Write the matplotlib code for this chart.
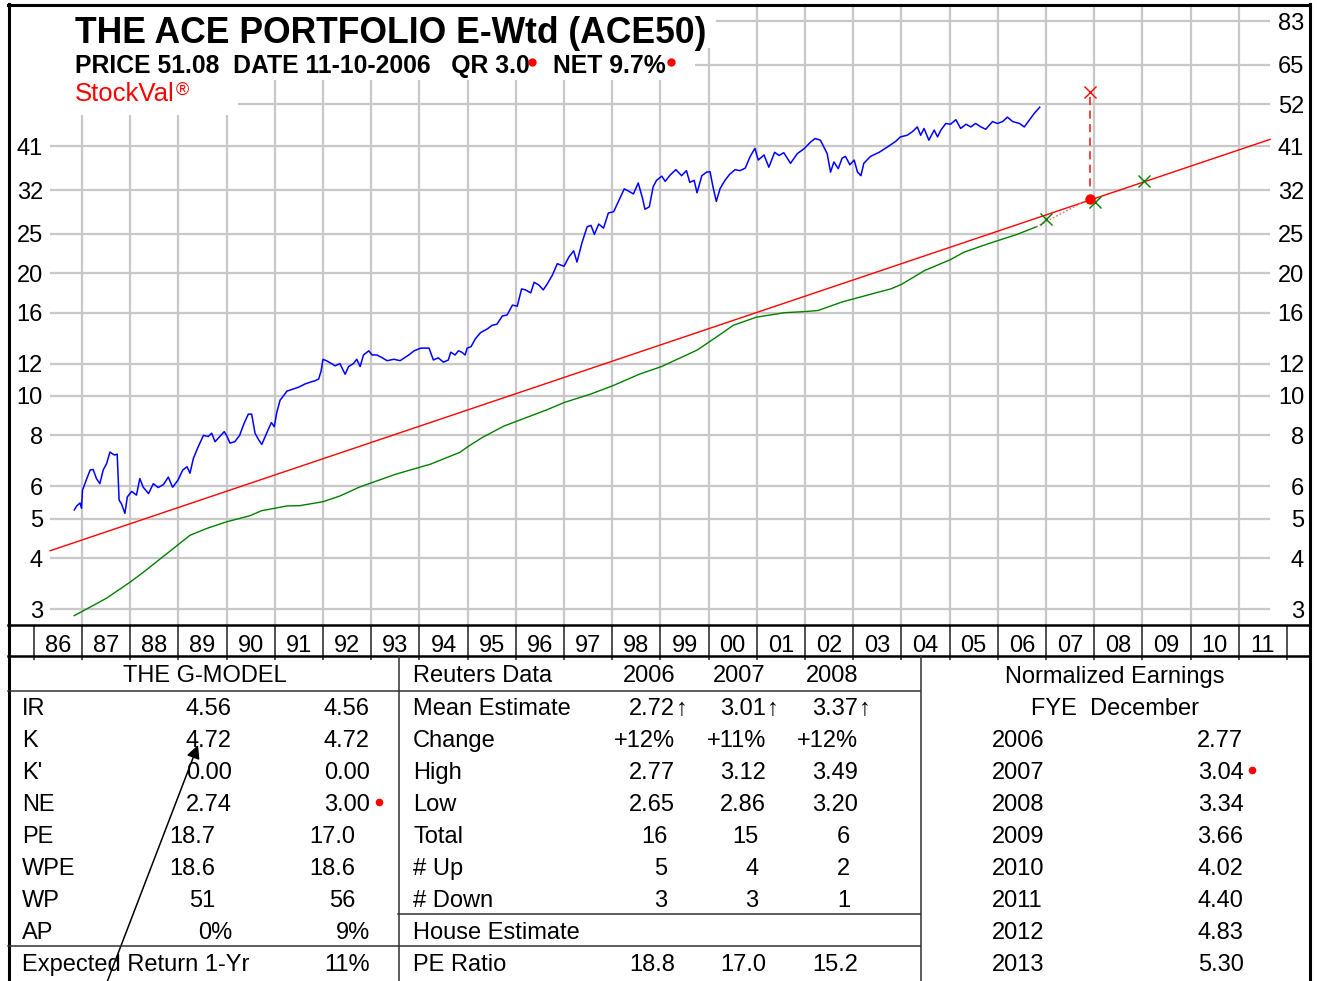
import matplotlib
matplotlib.use('Agg')
import matplotlib.pyplot as plt
from matplotlib.patches import Rectangle
from matplotlib.lines import Line2D

plt.rcParams['font.family'] = ['Liberation Sans', 'DejaVu Sans']

W, H, DPI = 1317, 981, 100

# ---------------- data ----------------
price_years = [1986.84, 1986.89, 1986.96, 1986.99, 1987.01, 1987.10, 1987.17, 1987.23, 1987.30, 1987.37,
               1987.44, 1987.51, 1987.58, 1987.64, 1987.68, 1987.73, 1987.77, 1987.82, 1987.89, 1987.94,
               1988.03, 1988.13, 1988.20, 1988.27, 1988.38, 1988.48, 1988.58, 1988.69, 1988.79, 1988.88,
               1988.99, 1989.09, 1989.18, 1989.24, 1989.31, 1989.41, 1989.52, 1989.62, 1989.69, 1989.76,
               1989.86, 1989.95, 1990.00, 1990.07, 1990.17, 1990.27, 1990.36, 1990.45, 1990.52, 1990.59,
               1990.66, 1990.73, 1990.80, 1990.86, 1990.93, 1990.99, 1991.04, 1991.11, 1991.18, 1991.25,
               1991.39, 1991.49, 1991.63, 1991.73, 1991.84, 1991.91, 1991.96, 1992.00, 1992.07, 1992.18,
               1992.25, 1992.35, 1992.46, 1992.53, 1992.63, 1992.70, 1992.77, 1992.84, 1992.95, 1993.02,
               1993.12, 1993.23, 1993.33, 1993.47, 1993.60, 1993.78, 1993.89, 1994.03, 1994.20, 1994.29,
               1994.39, 1994.50, 1994.60, 1994.65, 1994.74, 1994.81, 1994.88, 1994.95, 1994.99, 1995.07,
               1995.16, 1995.27, 1995.41, 1995.51, 1995.61, 1995.72, 1995.82, 1995.93, 1996.03, 1996.12,
               1996.20, 1996.31, 1996.38, 1996.48, 1996.57, 1996.65, 1996.76, 1996.86, 1997.00, 1997.10,
               1997.20, 1997.27, 1997.37, 1997.48, 1997.56, 1997.63, 1997.72, 1997.82, 1997.92, 1998.03,
               1998.13, 1998.25, 1998.34, 1998.44, 1998.54, 1998.63, 1998.68, 1998.77, 1998.85, 1998.92,
               1999.03, 1999.10, 1999.20, 1999.32, 1999.44, 1999.54, 1999.61, 1999.70, 1999.76, 1999.86,
               1999.96, 2000.03, 2000.09, 2000.16, 2000.24, 2000.34, 2000.44, 2000.55, 2000.65, 2000.76,
               2000.86, 2000.96, 2001.03, 2001.15, 2001.25, 2001.37, 2001.46, 2001.56, 2001.70, 2001.84,
               2001.98, 2002.12, 2002.21, 2002.32, 2002.39, 2002.46, 2002.53, 2002.60, 2002.69, 2002.77,
               2002.84, 2002.93, 2003.02, 2003.09, 2003.16, 2003.22, 2003.36, 2003.54, 2003.71, 2003.88,
               2003.98, 2004.12, 2004.23, 2004.33, 2004.40, 2004.47, 2004.57, 2004.68, 2004.75, 2004.82,
               2004.92, 2005.02, 2005.13, 2005.23, 2005.34, 2005.44, 2005.54, 2005.65, 2005.75, 2005.89,
               2005.99, 2006.10, 2006.20, 2006.31, 2006.45, 2006.55, 2006.66, 2006.76, 2006.87]
price_vals = [5.25, 5.37, 5.46, 5.30, 5.87, 6.27, 6.58, 6.60, 6.27, 6.09,
              6.58, 6.82, 7.28, 7.20, 7.16, 7.20, 5.55, 5.43, 5.15, 5.65,
              5.83, 5.71, 6.27, 5.97, 5.76, 6.09, 5.96, 6.06, 6.32, 5.97,
              6.21, 6.58, 6.70, 6.46, 7.02, 7.50, 8.00, 7.95, 8.10, 7.72,
              7.95, 8.17, 8.00, 7.66, 7.72, 8.00, 8.55, 9.02, 9.02, 8.10,
              7.82, 7.60, 7.95, 8.25, 8.60, 8.40, 9.10, 9.76, 10.0, 10.27,
              10.4, 10.5, 10.7, 10.8, 10.9, 11.0, 11.5, 12.3, 12.2, 12.0,
              11.85, 12.0, 11.3, 11.8, 12.0, 12.3, 11.8, 12.6, 12.9, 12.6,
              12.6, 12.4, 12.2, 12.3, 12.2, 12.6, 12.9, 13.1, 13.1, 12.25,
              12.4, 12.1, 12.25, 12.8, 12.6, 12.9, 12.8, 12.6, 13.1, 13.2,
              13.8, 14.3, 14.6, 14.9, 15.0, 15.7, 15.8, 16.7, 16.6, 18.3,
              18.2, 17.9, 19.0, 18.7, 18.2, 18.8, 19.8, 21.1, 20.8, 21.9,
              22.7, 21.3, 23.7, 26.0, 26.2, 24.9, 26.4, 25.8, 28.1, 28.3,
              30.0, 32.2, 31.8, 31.3, 33.3, 30.5, 28.7, 29.1, 32.6, 33.8,
              34.6, 33.6, 34.8, 35.9, 34.7, 35.7, 33.4, 33.8, 31.5, 34.7,
              35.4, 35.5, 32.6, 30.0, 32.3, 33.8, 35.0, 35.9, 35.7, 36.2,
              38.6, 40.5, 37.9, 39.0, 36.4, 39.6, 38.9, 39.5, 37.2, 39.3,
              40.4, 42.0, 42.8, 42.4, 40.8, 39.3, 35.4, 37.5, 36.1, 38.3,
              38.7, 36.9, 37.9, 35.4, 34.7, 37.2, 38.7, 39.6, 40.8, 42.1,
              43.2, 43.6, 44.5, 45.7, 43.6, 45.3, 42.4, 44.9, 43.2, 44.9,
              46.6, 46.4, 47.6, 45.3, 46.4, 45.7, 46.6, 45.7, 45.1, 47.1,
              46.6, 47.1, 48.3, 47.1, 46.6, 45.7, 47.6, 49.4, 51.08]

trend_years = [1986.84, 1987.23, 1987.51, 1987.98, 1988.27, 1988.55, 1988.99, 1989.24, 1989.59, 1990.00,
               1990.48, 1990.73, 1991.00, 1991.25, 1991.52, 1992.00, 1992.35, 1992.75, 1993.50, 1994.23,
               1994.84, 1995.00, 1995.30, 1995.75, 1996.65, 1997.01, 1997.55, 1998.02, 1998.56, 1999.02,
               1999.76, 2000.26, 2000.51, 2000.99, 2001.57, 2002.00, 2002.27, 2002.77, 2003.47, 2003.78,
               2004.01, 2004.48, 2005.02, 2005.29, 2005.79, 2006.40, 2006.80]
trend_vals = [2.89, 3.06, 3.19, 3.48, 3.69, 3.92, 4.31, 4.55, 4.73, 4.91,
              5.08, 5.23, 5.30, 5.37, 5.38, 5.50, 5.68, 5.97, 6.42, 6.80,
              7.27, 7.50, 7.90, 8.43, 9.25, 9.64, 10.1, 10.6, 11.3, 11.8,
              12.95, 14.2, 14.9, 15.6, 16.0, 16.1, 16.2, 17.0, 17.9, 18.3,
              18.8, 20.3, 21.6, 22.5, 23.6, 24.9, 26.0]

value_line_years = [1986.34, 2011.65]
value_line_vals = [4.17, 42.6]

est_years = [2007.01, 2008.02, 2009.03]
est_vals = [27.1, 29.96, 33.7]

target_year = 2007.91
target_val = 55.8
fair_val = 30.5
dash_span = [54.2, 32.1]

grid_vals = [3, 4, 5, 6, 8, 10, 12, 16, 20, 25, 32, 41, 52, 65, 83]
left_label_vals = [3, 4, 5, 6, 8, 10, 12, 16, 20, 25, 32, 41]
year_starts = list(range(1986, 2012))
year_labels = ['86', '87', '88', '89', '90', '91', '92', '93', '94', '95', '96', '97', '98',
               '99', '00', '01', '02', '03', '04', '05', '06', '07', '08', '09', '10', '11']

title = 'THE ACE PORTFOLIO E-Wtd (ACE50)'
sub_left = 'PRICE 51.08  DATE 11-10-2006   QR 3.0'
sub_right = 'NET 9.7%'

gmodel_labels = ['IR', 'K', "K'", 'NE', 'PE', 'WPE', 'WP', 'AP']
gmodel_col1 = ['4.56', '4.72', '0.00', '2.74', '18.7', '18.6', '51', '0%']
gmodel_col2 = ['4.56', '4.72', '0.00', '3.00', '17.0', '18.6', '56', '9%']
exp_return = '11%'

reuters_years = ['2006', '2007', '2008']
reuters_labels = ['Mean Estimate', 'Change', 'High', 'Low', 'Total', '# Up', '# Down']
reuters_rows = [['2.72', '3.01', '3.37'],
                ['+12%', '+11%', '+12%'],
                ['2.77', '3.12', '3.49'],
                ['2.65', '2.86', '3.20'],
                ['16', '15', '6'],
                ['5', '4', '2'],
                ['3', '3', '1']]
pe_ratio = ['18.8', '17.0', '15.2']

ne_years = ['2006', '2007', '2008', '2009', '2010', '2011', '2012', '2013']
ne_vals = ['2.77', '3.04', '3.34', '3.66', '4.02', '4.40', '4.83', '5.30']

# ---------------- layout helpers (pixel geometry) ----------------
def px2year(x):
    return 1987 + (x - 82) / 48.2

CH_TOP, CH_BOT = 5, 625
YMIN, YMAX = 2.741, 91.0

fig = plt.figure(figsize=(W / DPI, H / DPI), dpi=DPI)
fig.patch.set_facecolor('white')

ax = fig.add_axes([10 / W, (H - CH_BOT) / H, 1300 / W, (CH_BOT - CH_TOP) / H])
ax.set_xlim(px2year(10), px2year(1310))
ax.set_yscale('log')
ax.set_ylim(YMIN, YMAX)
ax.axis('off')

GRID_C = '#c8c8c8'
ax.hlines(grid_vals, px2year(50), px2year(1270), color=GRID_C, lw=1.6, zorder=1)
ax.vlines(year_starts[1:], YMIN, YMAX, color=GRID_C, lw=1.6, zorder=1)

ax.plot(value_line_years, value_line_vals, color='#ff0000', lw=1.0, zorder=3)
ax.plot(trend_years, trend_vals, color='#008000', lw=1.0, zorder=3)
ax.plot(price_years, price_vals, color='#0000ff', lw=1.1, zorder=4)
ax.plot([trend_years[-1], target_year], [trend_vals[-1], fair_val], color='#ff6060', lw=1.0,
        ls=(0, (1.2, 1.5)), zorder=3)
ax.plot([target_year, target_year], dash_span, color='#ff3030', lw=1.3, ls=(0, (4.5, 3)), zorder=3)
ax.plot(est_years, est_vals, ls='none', marker='x', ms=9, mew=1.0, color='#008000', zorder=5)
ax.plot([target_year], [target_val], ls='none', marker='x', ms=9, mew=1.0, color='#ff0000', zorder=5)
ax.plot([target_year], [fair_val], ls='none', marker='o', ms=7.5, color='#ff0000', mew=0, zorder=6)

for v in left_label_vals:
    ax.text(px2year(43), v, str(v), ha='right', va='center_baseline', fontsize=17, zorder=6)
for v in grid_vals:
    ax.text(px2year(1304), v, str(v), ha='right', va='center_baseline', fontsize=17, zorder=6)

# year row
ay = fig.add_axes([10 / W, (H - 660) / H, 1300 / W, 35 / H])
ay.set_xlim(px2year(10), px2year(1310))
ay.set_ylim(660, 625)
ay.axis('off')
ay.vlines(year_starts + [2012], 625, 660, color='#202020', lw=1.1)
for yr, lab in zip(year_starts, year_labels):
    ay.text(yr + 0.5, 652, lab, ha='center', va='baseline', fontsize=17)

# overlay in pixel coordinates
ao = fig.add_axes([0, 0, 1, 1], zorder=10)
ao.set_xlim(0, W)
ao.set_ylim(H, 0)
ao.axis('off')
ao.patch.set_alpha(0)

# white boxes behind heading texts
ao.add_patch(Rectangle((11, 7), 705, 41, facecolor='white', edgecolor='none', zorder=1))
ao.add_patch(Rectangle((11, 48), 684, 32, facecolor='white', edgecolor='none', zorder=1))
ao.add_patch(Rectangle((11, 80), 227, 35, facecolor='white', edgecolor='none', zorder=1))

ao.text(75, 43, title, fontsize=25.6, fontweight='bold', ha='left', va='baseline', zorder=3)
ao.text(75, 73, sub_left, fontsize=17.8, fontweight='bold', ha='left', va='baseline', zorder=3)
ao.text(553, 73, sub_right, fontsize=17.8, fontweight='bold', ha='left', va='baseline', zorder=3)
ao.plot([532, 671], [62, 62], ls='none', marker='o', ms=6, color='#ff0000', mew=0, zorder=3)
ao.text(75, 101, 'StockVal', fontsize=18.5, color='#ff0000', ha='left', va='baseline', zorder=3)
ao.text(175.5, 95, '\u00ae', fontsize=13, color='#ff0000', ha='left', va='baseline', zorder=3)

# frame and rules
K = 'black'
ao.add_line(Line2D([8, 1310], [5, 5], color=K, lw=2.2, zorder=5))
ao.add_line(Line2D([8.5, 8.5], [4, H], color=K, lw=2.2, zorder=5))
ao.add_line(Line2D([1309.5, 1309.5], [4, H], color=K, lw=2.2, zorder=5))
ao.add_line(Line2D([8, 1310], [625, 625], color=K, lw=1.8, zorder=5))
ao.add_line(Line2D([8, 1310], [656, 656], color=K, lw=1.8, zorder=5))
TL = '#303030'
ao.add_line(Line2D([8, 920], [690.7, 690.7], color=TL, lw=1.1, zorder=5))
ao.add_line(Line2D([8, 920], [945.7, 945.7], color=TL, lw=1.1, zorder=5))
ao.add_line(Line2D([398, 920], [914.3, 914.3], color=TL, lw=1.1, zorder=5))
ao.add_line(Line2D([398.5, 398.5], [656, H], color=TL, lw=1.1, zorder=5))
ao.add_line(Line2D([920.7, 920.7], [656, H], color=TL, lw=1.1, zorder=5))

FS = 17
HDR = 682.5
rows = [715 + 32 * i for i in range(9)]

# G-model block
ao.text(205, HDR, 'THE G-MODEL', fontsize=FS, ha='center', va='baseline')
pe_like = {'PE', 'WPE', 'WP'}
for i, lab in enumerate(gmodel_labels):
    y = rows[i]
    ao.text(22, y, lab, fontsize=FS, ha='left', va='baseline')
    x1, x2 = (215, 355) if lab in pe_like else (232, 370)
    ao.text(x1, y, gmodel_col1[i], fontsize=FS, ha='right', va='baseline')
    ao.text(x2, y, gmodel_col2[i], fontsize=FS, ha='right', va='baseline')
ao.plot([378.5], [802], ls='none', marker='o', ms=5.5, color='#ff0000', mew=0)
ao.text(22, rows[8], 'Expected Return 1-Yr', fontsize=FS, ha='left', va='baseline')
ao.text(370, rows[8], exp_return, fontsize=FS, ha='right', va='baseline')

# Reuters block
cols = [675, 766, 858]
ao.text(413, HDR, 'Reuters Data', fontsize=FS, ha='left', va='baseline')
for c, yr in zip(cols, reuters_years):
    ao.text(c, HDR, yr, fontsize=FS, ha='right', va='baseline')
for i, lab in enumerate(reuters_labels):
    y = rows[i]
    ao.text(413, y, lab, fontsize=FS, ha='left', va='baseline')
    for j, c in enumerate(cols):
        val = reuters_rows[i][j]
        if i >= 4:
            ao.text(c - 7.5, y, val, fontsize=FS, ha='right', va='baseline')
        else:
            ao.text(c, y, val, fontsize=FS, ha='right', va='baseline')
        if i == 0:
            ao.text(c + 1, y, '\u2191', fontsize=FS, ha='left', va='baseline')
ao.text(413, rows[7], 'House Estimate', fontsize=FS, ha='left', va='baseline')
ao.text(413, rows[8], 'PE Ratio', fontsize=FS, ha='left', va='baseline')
for c, v in zip(cols, pe_ratio):
    ao.text(c, rows[8], v, fontsize=FS, ha='right', va='baseline')

# Normalized earnings block
ao.text(1114.5, HDR, 'Normalized Earnings', fontsize=FS, ha='center', va='baseline')
ao.text(1115, rows[0], 'FYE  December', fontsize=FS, ha='center', va='baseline')
for i, (yr, v) in enumerate(zip(ne_years, ne_vals)):
    y = rows[i + 1]
    ao.text(992, y, yr, fontsize=FS, ha='left', va='baseline')
    ao.text(1243.5, y, v, fontsize=FS, ha='right', va='baseline')
ao.plot([1252], [769.5], ls='none', marker='o', ms=5.5, color='#ff0000', mew=0)

# pointer arrow
ao.annotate('', xy=(198, 745), xytext=(104, 990),
            arrowprops=dict(arrowstyle='-|>', color='black', lw=1.1, mutation_scale=20,
                            shrinkA=0, shrinkB=0))

fig.savefig('out.png', dpi=DPI, facecolor='white')
